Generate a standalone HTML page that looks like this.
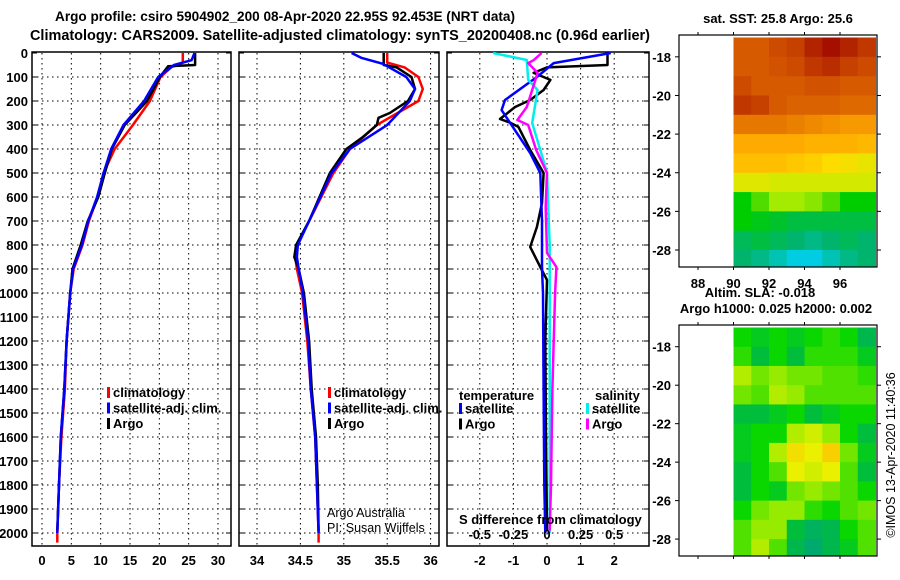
<!DOCTYPE html>
<html><head><meta charset="utf-8">
<style>
body{margin:0;background:#fff;}
svg{display:block;font-family:"Liberation Sans",sans-serif;}
.t{font-weight:bold;font-size:13px;fill:#000;}
.tk{font-weight:bold;font-size:13px;fill:#000;}
.g{stroke:#000;stroke-width:1;stroke-dasharray:1.5,3.5;}
</style></head>
<body>
<svg id="chart" width="900" height="580" viewBox="0 0 900 580" xmlns="http://www.w3.org/2000/svg">
<text class="t" x="55" y="21" textLength="460" lengthAdjust="spacingAndGlyphs" style="font-size:14px">Argo profile: csiro 5904902_200 08-Apr-2020 22.95S 92.453E (NRT data)</text>
<text class="t" x="30" y="40" textLength="620" lengthAdjust="spacingAndGlyphs" style="font-size:14.5px">Climatology: CARS2009. Satellite-adjusted climatology: synTS_20200408.nc (0.96d earlier)</text>
<g id="layer"></g>
</svg>
<script>
// ---- depth ticks
const depthTicks=[0,100,200,300,400,500,600,700,800,900,1000,1100,1200,1300,1400,1500,1600,1700,1800,1900,2000];
// ---- temperature panel
const tempTicks=[0,5,10,15,20,25,30];
const tClimDepth=[0,40,60,100,150,200,300,400,500,600,700,800,900,1000,1200,1400,1600,1800,2000,2040];
const tClimVal=[24,24,22,20.2,19.3,18.4,15.5,12.4,10.5,9.5,8.0,6.9,5.4,4.8,4.2,3.9,3.3,2.9,2.6,2.6];
const tSatDepth=[0,30,50,100,150,200,300,400,500,600,700,800,900,1000,1200,1400,1600,1800,2000];
const tSatVal=[26,25.5,22.5,19.8,18.6,17.4,13.9,11.8,10.5,9.4,7.9,6.8,5.3,4.8,4.2,3.8,3.2,2.9,2.6];
const tArgoDepth=[0,50,55,100,150,200,250,300,400,500,600,700,800,900,1000,1200,1400,1600,1800,1990];
const tArgoVal=[26.1,26.1,21.5,20.1,19.0,17.9,16.0,14.1,11.9,10.7,9.6,7.8,6.6,5.2,4.8,4.2,3.8,3.2,2.9,2.6];
// ---- salinity panel
const salTicks=[34,34.5,35,35.5,36];
const sClimDepth=[0,40,60,100,150,200,300,400,500,600,700,800,850,900,1000,1200,1400,1600,1800,2000,2040];
const sClimVal=[35.5,35.5,35.7,35.86,35.91,35.86,35.38,35.07,34.88,34.74,34.6,34.46,34.44,34.46,34.52,34.58,34.62,34.67,34.69,34.71,34.71];
const sSatDepth=[0,20,45,100,150,200,300,400,500,600,700,800,850,900,1000,1200,1400,1600,1800,2000];
const sSatVal=[35.09,35.2,35.45,35.72,35.82,35.76,35.5,35.07,34.86,34.73,34.6,34.47,34.46,34.48,34.53,34.59,34.62,34.67,34.69,34.71];
const sArgoDepth=[0,50,60,100,150,200,250,270,300,350,400,500,600,700,800,850,900,1000,1200,1400,1600,1800,1990];
const sArgoVal=[35.46,35.46,35.61,35.78,35.82,35.74,35.53,35.4,35.38,35.22,35.03,34.84,34.72,34.6,34.45,34.43,34.48,34.54,34.6,34.63,34.68,34.7,34.71];
// ---- difference panel
const dTTicks=[-2,-1,0,1,2];
const dSTicks=[-0.5,-0.25,0,0.25,0.5];
const dSTickLabels=["-0.5","-0.25","0","0.25","0.5"];
const dTSatDepth=[0,42,100,196,238,333,417,500,700,900,1000,1400,1800,2000];
const dTSatVal=[1.9,0.2,-0.3,-1.25,-1.35,-0.9,-0.5,-0.2,-0.15,-0.15,-0.12,-0.1,-0.08,-0.05];
const dTArgoDepth=[0,50,60,83,112,154,196,225,275,290,308,404,500,625,725,808,892,946,1200,1600,1990];
const dTArgoVal=[1.8,1.8,0,-0.4,0.1,-0.1,-0.5,-0.95,-1.4,-1.1,-0.85,-0.5,-0.1,-0.15,-0.3,-0.5,-0.2,0,-0.05,-0.03,0];
const dSSatDepth=[0,29,112,154,292,404,500,800,1000,1400,1800,2000];
const dSSatVal=[-0.4,-0.15,-0.14,-0.07,-0.11,-0.05,0,0.02,0.02,0.02,0.02,0.02];
const dSArgoDepth=[0,30,42,83,225,279,300,404,500,642,833,892,1000,1200,1400,1800,1990];
const dSArgoVal=[-0.04,-0.1,-0.14,-0.07,-0.15,-0.22,-0.14,-0.08,0,-0.01,0,0.07,0.06,0.05,0.04,0.03,0.02];
// ---- maps
const mapLonTicks=[88,90,92,94,96];
const mapLatTicks=[-18,-20,-22,-24,-26,-28];
const mapLons=[90,91,92,93,94,95,96,97];
const mapLats=[-17,-18,-19,-20,-21,-22,-23,-24,-25,-26,-27,-28];
const sstGrid=[
[27.0,27.0,27.2,27.3,27.6,27.8,27.6,27.4],
[27.0,27.0,27.1,27.2,27.4,27.5,27.3,27.2],
[27.2,27.0,27.0,27.0,27.1,27.1,27.0,27.0],
[27.4,27.3,27.0,26.9,26.9,26.9,26.8,26.8],
[26.6,26.6,26.6,26.5,26.4,26.3,26.2,26.2],
[26.0,26.0,26.0,26.0,25.9,25.9,25.9,25.8],
[25.7,25.7,25.7,25.6,25.5,25.3,25.2,25.1],
[25.0,25.0,24.9,24.9,24.9,24.9,24.9,24.9],
[24.0,24.3,24.6,24.6,24.5,24.3,24.0,24.0],
[24.0,23.9,23.8,23.7,23.7,23.7,23.7,23.7],
[23.6,23.7,23.6,23.5,23.4,23.5,23.6,23.5],
[23.5,23.4,23.2,23.0,23.0,23.2,23.4,23.5]];
const slaGrid=[
[0.0,-0.01,0.0,-0.01,0.0,0.01,0.0,-0.03],
[0.01,-0.02,0.0,-0.02,0.01,0.01,0.01,-0.01],
[0.05,0.03,0.04,0.03,0.03,0.02,0.02,0.01],
[0.03,0.02,0.05,0.04,0.02,0.02,0.02,0.02],
[-0.02,-0.02,-0.01,0.0,-0.02,-0.01,0.0,0.0],
[-0.01,0.0,0.0,0.05,0.06,0.04,0.0,-0.02],
[-0.01,0.0,0.05,0.08,0.07,0.09,0.03,-0.01],
[-0.02,0.0,0.02,0.07,0.06,0.07,0.02,-0.02],
[-0.02,0.0,-0.01,0.03,0.04,0.03,0.02,0.0],
[0.0,0.03,0.04,0.04,0.01,0.0,0.02,0.03],
[0.02,0.04,0.04,-0.02,-0.04,-0.03,0.0,0.02],
[0.02,0.05,0.02,-0.03,-0.05,-0.03,-0.01,0.02]];

const NS="http://www.w3.org/2000/svg";
const layer=document.getElementById('layer');
function mk(tag,attrs,parent,txt){const e=document.createElementNS(NS,tag);for(const k in attrs)e.setAttribute(k,attrs[k]);if(txt!==undefined)e.textContent=txt;(parent||layer).appendChild(e);return e;}
const TOP=53,BOT=546;
const yD=d=>TOP+d*0.24;
const xT=v=>42+v*(176/30);
const xS=v=>257+(v-34)*86.8;
const xDT=v=>547+v*33.6;
const xDS=v=>547+v*134.4;

function panel(name,x0,x1,ticks,xf,labels,withDepth){
  const g=mk('g',{});
  
  
  depthTicks.forEach(d=>{
    if(d>0) mk('line',{x1:x0,x2:x1,y1:yD(d),y2:yD(d),class:'g'},g);
    mk('line',{x1:x0,x2:x0+5,y1:yD(d),y2:yD(d),stroke:'#000'},g);
    mk('line',{x1:x1-5,x2:x1,y1:yD(d),y2:yD(d),stroke:'#000'},g);
    if(withDepth){const t=mk('text',{x:28,y:yD(d)+5,class:'tk','text-anchor':'end'},g,String(d));
      }
  });
  ticks.forEach((v,i)=>{
    const x=xf(v);
    mk('line',{x1:x,x2:x,y1:TOP,y2:BOT,class:'g'},g);
    if(labels){const t=mk('text',{x:x,y:565,class:'tk','text-anchor':'middle'},g,labels[i]);
      }
  });
  mk('rect',{x:x0,y:TOP-1,width:x1-x0,height:BOT-TOP+1,fill:'none',stroke:'#000','stroke-width':1.5},g);
  return g;
}
function series(name,ds,vs,xf,color,w){
  const pts=ds.map((d,i)=>xf(vs[i]).toFixed(1)+','+yD(d).toFixed(1)).join(' ');
  const p=mk('polyline',{points:pts,fill:'none',stroke:color,'stroke-width':w,'stroke-linejoin':'round'});
  
  
}
function legend(items,x,y){
  items.forEach((it,i)=>{
    mk('rect',{x:x,y:y+i*15.5-9,width:3,height:11,fill:it[1]});
    const t=mk('text',{x:x+6,y:y+i*15.5+1,class:'t'},layer,it[0]);
    
    
  });
}
// panel 1
panel('temperature-panel',32,231,tempTicks,xT,tempTicks.map(String),true);
series('temp-climatology-line',tClimDepth,tClimVal,xT,'#f00',2.5);
series('temp-argo-line',tArgoDepth,tArgoVal,xT,'#000',2.5);
series('temp-satellite-line',tSatDepth,tSatVal,xT,'#00f',2.5);
legend([['climatology','#f00'],['satellite-adj. clim.','#00f'],['Argo','#000']],107,396);
// panel 2
panel('salinity-panel',239,439,salTicks,xS,["34","34.5","35","35.5","36"],false);
series('sal-climatology-line',sClimDepth,sClimVal,xS,'#f00',2.5);
series('sal-argo-line',sArgoDepth,sArgoVal,xS,'#000',2.5);
series('sal-satellite-line',sSatDepth,sSatVal,xS,'#00f',2.5);
legend([['climatology','#f00'],['satellite-adj. clim.','#00f'],['Argo','#000']],328,396);
mk('text',{x:327,y:517,'font-size':12.5},layer,'Argo Australia');
mk('text',{x:327,y:532,'font-size':12.5},layer,'PI: Susan Wijffels');
// panel 3
panel('difference-panel',447,649,dTTicks,xDT,dTTicks.map(String),false);
series('dT-argo-line',dTArgoDepth,dTArgoVal,xDT,'#000',2.5);
series('dT-satellite-line',dTSatDepth,dTSatVal,xDT,'#00f',2.5);
series('dS-satellite-line',dSSatDepth,dSSatVal,xDS,'#0ee',2.5);
series('dS-argo-line',dSArgoDepth,dSArgoVal,xDS,'#f0f',2.5);
mk('text',{x:459,y:400,class:'t'},layer,'temperature');
mk('text',{x:595,y:400,class:'t'},layer,'salinity');
legend([['satellite','#00f'],['Argo','#000']],459,412);
legend([['satellite','#0ee'],['Argo','#f0f']],586,412);
mk('text',{x:459,y:524,class:'t'},layer,'S difference from climatology');
dSTicks.forEach((v,i)=>{const t=mk('text',{x:xDS(v),y:539,class:'tk','text-anchor':'middle'},layer,dSTickLabels[i]);
  });

// maps
const mxL=v=>698+(v-88)*17.75;
function sstColor(v){
  const st=[[23.0,[0,205,225]],[23.5,[0,180,110]],[24.0,[0,205,0]],[24.7,[190,240,0]],[25.3,[255,220,0]],[26.0,[255,170,0]],[26.6,[230,120,0]],[27.2,[205,75,0]],[27.8,[165,15,0]]];
  return interp(st,v);
}
function slaColor(v){
  const st=[[-0.05,[0,170,110]],[-0.02,[0,190,60]],[0.0,[10,215,0]],[0.04,[150,235,0]],[0.07,[235,240,0]],[0.1,[255,190,0]]];
  return interp(st,v);
}
function interp(st,v){
  if(v<=st[0][0])return 'rgb('+st[0][1]+')';
  for(let i=1;i<st.length;i++){if(v<=st[i][0]){const f=(v-st[i-1][0])/(st[i][0]-st[i-1][0]);
    const c=st[i-1][1].map((a,k)=>Math.round(a+(st[i][1][k]-a)*f));return 'rgb('+c+')';}}
  return 'rgb('+st[st.length-1][1]+')';
}
function map(name,top,bot,grid,cf,lonLabels){
  const g=mk('g',{});
  
  
  const latTop=-16.87,latBot=-28.88;
  const my=v=>top+(latTop-v)*(bot-top)/(latTop-latBot);
  grid.forEach((row,r)=>row.forEach((v,c)=>{
    const la0=Math.min(mapLats[r],latTop),la1=Math.max(mapLats[r]-1,latBot);
    const x0=mxL(mapLons[c]),x1=Math.min(mxL(mapLons[c]+1),877);
    const cell=mk('rect',{x:x0,y:my(la0),width:x1-x0+0.5,height:my(la1)-my(la0)+0.5,fill:cf(v)},g);
    
    
  }));
  mk('rect',{x:679,y:top,width:198,height:bot-top,fill:'none',stroke:'#000','stroke-width':1.2},g);
  mapLatTicks.forEach(v=>{mk('line',{x1:675,x2:679,y1:my(v),y2:my(v),stroke:'#000'},g);
    mk('line',{x1:877,x2:881,y1:my(v),y2:my(v),stroke:'#000'},g);
    mk('text',{x:671,y:my(v)+5,class:'tk','text-anchor':'end'},g,String(v));});
  mapLonTicks.forEach(v=>{mk('line',{x1:mxL(v),x2:mxL(v),y1:top-3,y2:top,stroke:'#000'},g);
    mk('line',{x1:mxL(v),x2:mxL(v),y1:bot,y2:bot+3,stroke:'#000'},g);
    if(lonLabels) mk('text',{x:mxL(v),y:bot+21,class:'tk','text-anchor':'middle'},g,String(v));});
}
mk('text',{x:778,y:23,class:'t','text-anchor':'middle'},layer,'sat. SST: 25.8 Argo: 25.6');
map('sst-map',35,267,sstGrid,sstColor,true);
mk('text',{x:760,y:297,class:'t','text-anchor':'middle'},layer,'Altim. SLA: -0.018');
mk('text',{x:776,y:313,class:'t','text-anchor':'middle'},layer,'Argo h1000: 0.025 h2000: 0.002');
map('sla-map',325,556,slaGrid,slaColor,false);
mk('text',{x:895,y:455,'font-size':12.5,'text-anchor':'middle',transform:'rotate(-90 895 455)'},layer,'©IMOS 13-Apr-2020 11:40:36');
</script>
</body></html>
